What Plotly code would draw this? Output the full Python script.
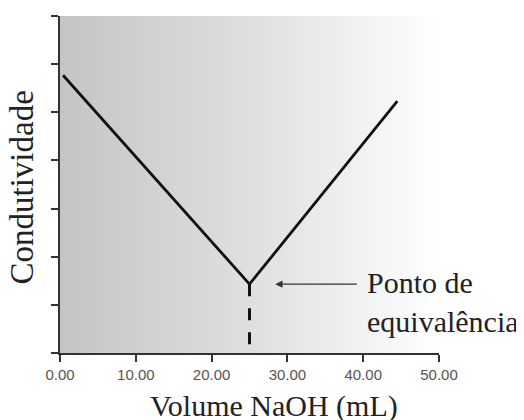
import plotly.graph_objects as go

# Data
volume_ml = [0.4, 25.0, 44.5]          # NaOH volume (mL)
conductivity = [5.77, 1.43, 5.23]      # arbitrary conductivity units
equiv_volume = 25.0
equiv_conductivity = 1.43
x_ticks = [0, 10, 20, 30, 40, 50]
x_tick_labels = ["0.00", "10.00", "20.00", "30.00", "40.00", "50.00"]
y_ticks = [0, 1, 2, 3, 4, 5, 6, 7]

X_MAX = 50
Y_MAX = 7

fig = go.Figure()

# gradient background over the plot region
fig.add_trace(go.Scatter(
    x=[0, X_MAX, X_MAX, 0, 0], y=[0, 0, Y_MAX, Y_MAX, 0],
    mode="lines", line=dict(width=0), fill="toself",
    fillgradient=dict(type="horizontal",
                      colorscale=[[0, "#c4c4c4"], [0.55, "#e2e2e2"], [1, "#ffffff"]]),
    hoverinfo="skip", showlegend=False))

# dashed equivalence line
fig.add_trace(go.Scatter(
    x=[equiv_volume, equiv_volume], y=[equiv_conductivity, 0],
    mode="lines", line=dict(color="#111111", width=3, dash="12px,12px"),
    showlegend=False, hoverinfo="skip"))

# conductometric titration curve
fig.add_trace(go.Scatter(
    x=volume_ml, y=conductivity, mode="lines",
    line=dict(color="#111111", width=2.8), showlegend=False))

serif = "Liberation Serif, Times New Roman, serif"

# the page body adds an 8px margin, so the figure is drawn 8px smaller
fig.update_layout(
    width=516, height=412,
    margin=dict(l=52, r=85, t=8, b=67),
    paper_bgcolor="white", plot_bgcolor="white",
    xaxis=dict(range=[0, X_MAX], tickvals=x_ticks, ticktext=x_tick_labels,
               showgrid=False, zeroline=False, showline=True, linecolor="#333333",
               linewidth=2, ticks="outside", ticklen=7, tickwidth=2, tickcolor="#333333",
               tickfont=dict(family="Liberation Sans, Arial, sans-serif", size=15, color="#555555")),
    yaxis=dict(range=[0, Y_MAX], tickvals=y_ticks, showticklabels=False,
               showgrid=False, zeroline=False, showline=True, linecolor="#333333",
               linewidth=2, ticks="outside", ticklen=7, tickwidth=2, tickcolor="#333333"),
    annotations=[
        dict(text="Volume NaOH (mL)", xref="paper", yref="paper", x=0.5646, y=-0.157,
             showarrow=False, font=dict(family=serif, size=30, color="#222222"),
             xanchor="center", yanchor="middle"),
        dict(text="Condutividade", xref="paper", yref="paper", x=-0.1003, y=0.491,
             textangle=-90, showarrow=False, font=dict(family=serif, size=33, color="#222222"),
             xanchor="center", yanchor="middle"),
        dict(text="", x=28.4, y=equiv_conductivity, xref="x", yref="y",
             showarrow=True, ax=83, ay=0, arrowhead=2, arrowsize=1.2, arrowwidth=1.2,
             arrowcolor="#333333"),
        dict(text="Ponto de<br>equivalência", x=40.2, y=1.06, xref="x", yref="y",
             showarrow=False, xanchor="left", yanchor="middle", align="left",
             font=dict(family=serif, size=30, color="#222222")),
    ],
)

fig.write_html("out.html")
